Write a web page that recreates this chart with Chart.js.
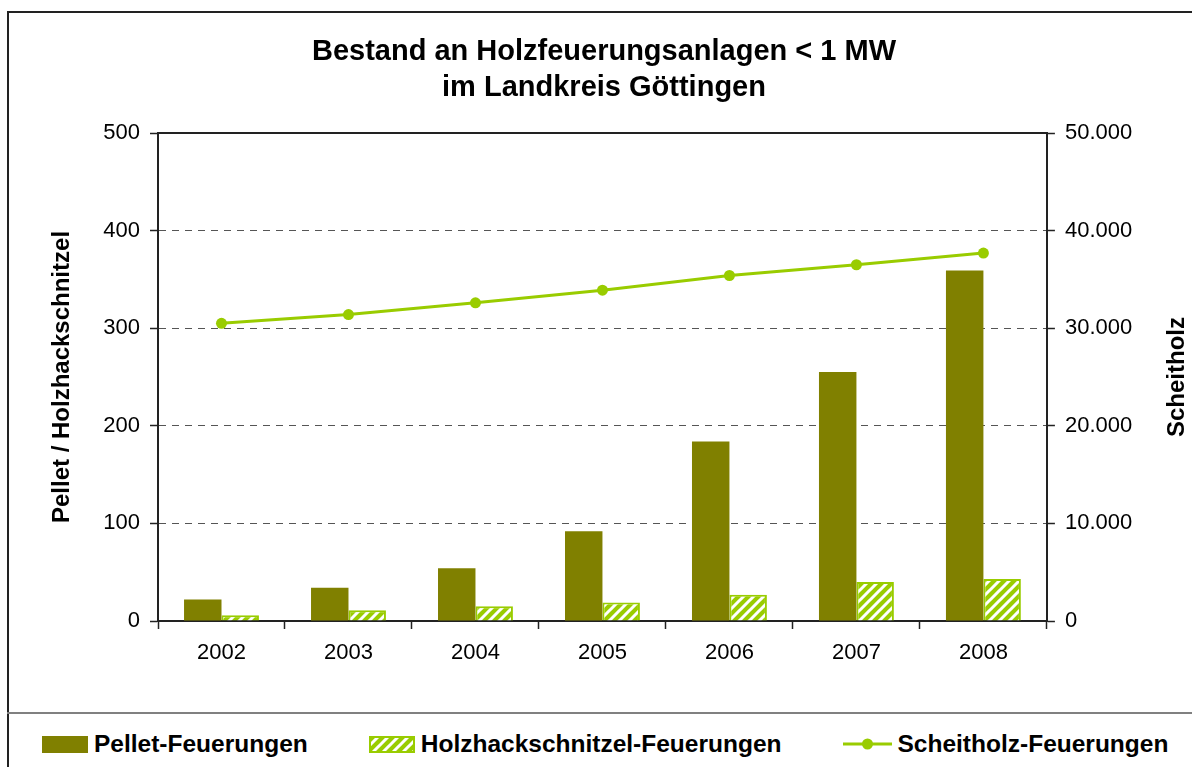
<!DOCTYPE html>
<html lang="de">
<head>
<meta charset="utf-8">
<title>Holzfeuerungsanlagen Landkreis Göttingen</title>
<script src="https://cdn.jsdelivr.net/npm/chart.js@4.4.1/dist/chart.umd.min.js"></script>
<style>
    body { margin: 0; background: #fff; overflow: hidden; font-family: "Liberation Sans", Arial, sans-serif; }
    #rahmen { position: absolute; left: 7px; top: 11px; width: 1300px; height: 900px; border-left: 2px solid #222; border-top: 2px solid #222; }
    #trenner { position: absolute; left: 7px; right: 0; top: 712px; height: 2px; background: #808080; }
    #box { position: absolute; left: 0; top: 0; width: 1192px; height: 677px; }
    #legende { position: absolute; left: 42px; top: 729px; height: 30px; display: flex; align-items: center; }
    .eintrag { display: flex; align-items: center; margin-right: 61px; font-weight: bold; font-size: 24.5px; color: #000; white-space: nowrap; }
    .eintrag:last-child { margin-right: 0; }
    .eintrag canvas { margin-right: 6px; }
</style>
</head>
<body>
<div id="rahmen"></div>
<div id="trenner"></div>
<div id="box"><canvas id="grafik"></canvas></div>
<div id="legende"></div>

<script>
// Daten
const jahre = ['2002', '2003', '2004', '2005', '2006', '2007', '2008'];
const pellet = [22, 34, 54, 92, 184, 255, 359];
const hackschnitzel = [6, 11, 15, 19, 27, 40, 43];
const scheitholz = [30500, 31400, 32600, 33900, 35400, 36500, 37700];

const linksTicks = [0, 100, 200, 300, 400, 500];
const rechtsTicks = [0, 10000, 20000, 30000, 40000, 50000];

const OLIV = '#808000';
const GRUEN = '#99CC00';

Chart.defaults.font.family = '"Liberation Sans", Arial, sans-serif';
Chart.defaults.color = '#000';

// Schraffur fuer Holzhackschnitzel
function schraffur() {
    const p = document.createElement('canvas');
    p.width = 10;
    p.height = 10;
    const c = p.getContext('2d');
    c.fillStyle = GRUEN;
    c.fillRect(0, 0, 10, 10);
    c.strokeStyle = '#fff';
    c.lineWidth = 3;
    c.beginPath();
    c.moveTo(-5, 5); c.lineTo(5, -5);
    c.moveTo(0, 10); c.lineTo(10, 0);
    c.moveTo(5, 15); c.lineTo(15, 5);
    c.stroke();
    return c.createPattern(p, 'repeat');
}

function tausender(v) {
    return String(v).replace(/\B(?=(\d{3})+(?!\d))/g, '.');
}

// obere Rahmenlinie der Zeichenflaeche
const rahmenOben = {
    id: 'rahmenOben',
    afterDraw(chart) {
        const a = chart.chartArea;
        const ctx = chart.ctx;
        ctx.save();
        ctx.strokeStyle = '#222';
        ctx.lineWidth = 2;
        ctx.beginPath();
        ctx.moveTo(a.left, a.top);
        ctx.lineTo(a.right, a.top);
        ctx.stroke();
        ctx.restore();
    }
};

// rechter Achsentitel, von unten nach oben gelesen
const titelRechts = {
    id: 'titelRechts',
    afterDraw(chart) {
        const s = chart.scales.y2;
        const ctx = chart.ctx;
        ctx.save();
        ctx.font = 'bold 24px "Liberation Sans", Arial, sans-serif';
        ctx.fillStyle = '#000';
        ctx.textAlign = 'center';
        ctx.textBaseline = 'middle';
        ctx.translate(s.right - 14.4, (s.top + s.bottom) / 2);
        ctx.rotate(-Math.PI / 2);
        ctx.fillText(s.options.title.text, 0, 0);
        ctx.restore();
    }
};

const muster = schraffur();

const daten = {
    labels: jahre,
    datasets: [
        {
            type: 'bar',
            label: 'Pellet-Feuerungen',
            data: pellet,
            backgroundColor: OLIV,
            borderWidth: 0,
            yAxisID: 'y'
        },
        {
            type: 'bar',
            label: 'Holzhackschnitzel-Feuerungen',
            data: hackschnitzel,
            backgroundColor: muster,
            borderColor: GRUEN,
            borderWidth: 2,
            yAxisID: 'y'
        },
        {
            type: 'line',
            label: 'Scheitholz-Feuerungen',
            data: scheitholz,
            borderColor: GRUEN,
            backgroundColor: GRUEN,
            borderWidth: 3,
            pointRadius: 5.5,
            pointBorderWidth: 0,
            pointBackgroundColor: GRUEN,
            tension: 0,
            yAxisID: 'y2'
        }
    ]
};

const grafik = new Chart(document.getElementById('grafik'), {
    type: 'bar',
    data: daten,
    options: {
        responsive: true,
        maintainAspectRatio: false,
        animation: false,
        events: [],
        layout: { padding: { left: 16, right: 0, top: 0, bottom: 0 } },
        datasets: {
            bar: { categoryPercentage: 0.59, barPercentage: 1.0 }
        },
        plugins: {
            legend: { display: false },
            tooltip: { enabled: false },
            title: {
                display: true,
                text: ['Bestand an Holzfeuerungsanlagen < 1 MW', 'im Landkreis Göttingen'],
                color: '#000',
                font: { size: 29, weight: 'bold', lineHeight: 1.25 },
                padding: { top: 34, bottom: 26.5 }
            }
        },
        scales: {
            x: {
                offset: true,
                grid: { drawOnChartArea: false, tickLength: 8, tickColor: '#222', tickWidth: 1.5 },
                border: { color: '#222', width: 2 },
                ticks: { font: { size: 22 }, color: '#000', padding: 10.8 }
            },
            y: {
                position: 'left',
                min: 0,
                max: 500,
                afterBuildTicks: function(s) { s.ticks = linksTicks.map(v => ({ value: v })); },
                grid: {
                    color: function(c) { return (c.tick && (c.tick.value === 0 || c.tick.value === 500)) ? 'rgba(0,0,0,0)' : '#555'; },
                    lineWidth: 1,
                    tickLength: 8,
                    tickColor: '#222',
                    tickWidth: 1.5,
                    tickBorderDash: []
                },
                border: { color: '#222', width: 2, dash: [7, 6] },
                ticks: { font: { size: 22 }, color: '#000', padding: 10 },
                title: {
                    display: true,
                    text: 'Pellet / Holzhackschnitzel',
                    color: '#000',
                    font: { size: 24, weight: 'bold' },
                    padding: { top: 31.6, bottom: 16.9 }
                }
            },
            y2: {
                position: 'right',
                min: 0,
                max: 50000,
                afterBuildTicks: function(s) { s.ticks = rechtsTicks.map(v => ({ value: v })); },
                grid: { drawOnChartArea: false, tickLength: 8, tickColor: '#222', tickWidth: 1.5 },
                border: { color: '#222', width: 2 },
                ticks: { font: { size: 22 }, color: '#000', padding: 10, callback: v => tausender(v) },
                title: {
                    display: true,
                    text: 'Scheitholz',
                    color: 'rgba(0,0,0,0)',
                    font: { size: 24, weight: 'bold' },
                    padding: { top: 0, bottom: 21 }
                }
            }
        }
    },
    plugins: [rahmenOben, titelRechts]
});

// Legende unter dem Rahmenstrich
function symbol(ds) {
    const cv = document.createElement('canvas');
    const c = cv.getContext('2d');
    if (ds.type === 'line') {
        cv.width = 49; cv.height = 14;
        c.strokeStyle = ds.borderColor;
        c.lineWidth = 3;
        c.beginPath(); c.moveTo(0, 7); c.lineTo(49, 7); c.stroke();
        c.fillStyle = ds.pointBackgroundColor;
        c.beginPath(); c.arc(24.5, 7, 5.5, 0, Math.PI * 2); c.fill();
    } else {
        cv.width = 46; cv.height = 17;
        c.fillStyle = ds.backgroundColor;
        c.fillRect(0, 0, 46, 17);
        if (ds.borderWidth) {
            c.strokeStyle = ds.borderColor;
            c.lineWidth = ds.borderWidth;
            c.strokeRect(1, 1, 44, 15);
        }
    }
    return cv;
}

const legende = document.getElementById('legende');
grafik.data.datasets.forEach(function(ds) {
    const e = document.createElement('div');
    e.className = 'eintrag';
    e.appendChild(symbol(ds));
    const t = document.createElement('span');
    t.textContent = ds.label;
    e.appendChild(t);
    legende.appendChild(e);
});
</script>
</body>
</html>
